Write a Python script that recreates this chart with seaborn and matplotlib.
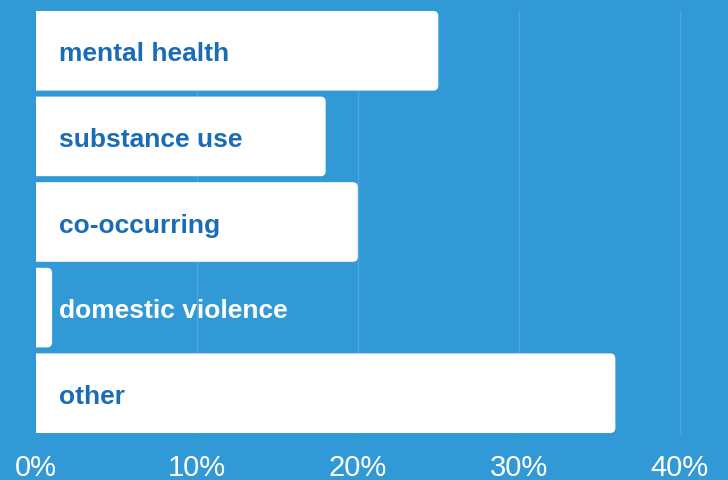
import pandas as pd
import matplotlib.pyplot as plt
import seaborn as sns
from matplotlib.patches import FancyBboxPatch

# Data
categories = ['mental health', 'substance use', 'co-occurring', 'domestic violence', 'other']
percent = [25, 18, 20, 1, 36]
tick_values = [0, 10, 20, 30, 40]
tick_labels = ['0%', '10%', '20%', '30%', '40%']

df = pd.DataFrame({'category': categories, 'percent': percent})

bg = '#319ad6'
label_blue = '#1a6db4'

sns.set_style('white')
plt.rcParams['font.family'] = ['Liberation Sans', 'DejaVu Sans']

fig = plt.figure(figsize=(7.28, 4.81), dpi=100, facecolor=bg)
ax = fig.add_axes([36 / 728, 1 - 437 / 481, 1 - 36 / 728, 428 / 481])
ax.set_facecolor(bg)

sns.barplot(data=df, x='percent', y='category', orient='h', color='white',
            width=0.93, saturation=1, ax=ax, zorder=2)

ax.set_xlim(0, 43)
ax.set_ylim(len(categories) - 0.5, -0.5)

# swap plain bars for bars rounded on the right end
# (start them left of 0 so the axes clip gives a square left end)
r = 0.32
aspect = 16.1 / 86
for p in list(ax.patches):
    x0, y0 = p.get_x(), p.get_y()
    w, h = p.get_width(), p.get_height()
    p.remove()
    ax.add_patch(FancyBboxPatch((x0 - 1, y0), w + 1, h,
                                boxstyle=f'round,pad=0,rounding_size={r}',
                                mutation_aspect=aspect, fc='white', ec='none', zorder=2))

# labels inside bars
for i, (cat, val) in enumerate(zip(categories, percent)):
    col = label_blue if val > 5 else 'white'
    ax.text(1.43, i + 0.03, cat, ha='left', va='center', fontsize=19, fontweight='bold',
            color=col, zorder=3)

# grid + ticks
for v in tick_values[1:]:
    ax.axvline(v, ymin=0.007, ymax=0.993, color='#4ba6dc', lw=1, zorder=1)
ax.set_xticks(tick_values)
ax.set_xticklabels(tick_labels, fontsize=21, color='white')
ax.tick_params(axis='x', length=0, pad=12)
ax.set_yticks([])
ax.set_xlabel('')
ax.set_ylabel('')
for s in ax.spines.values():
    s.set_visible(False)

plt.savefig('out.png', dpi=100, facecolor=bg)
plt.close()
